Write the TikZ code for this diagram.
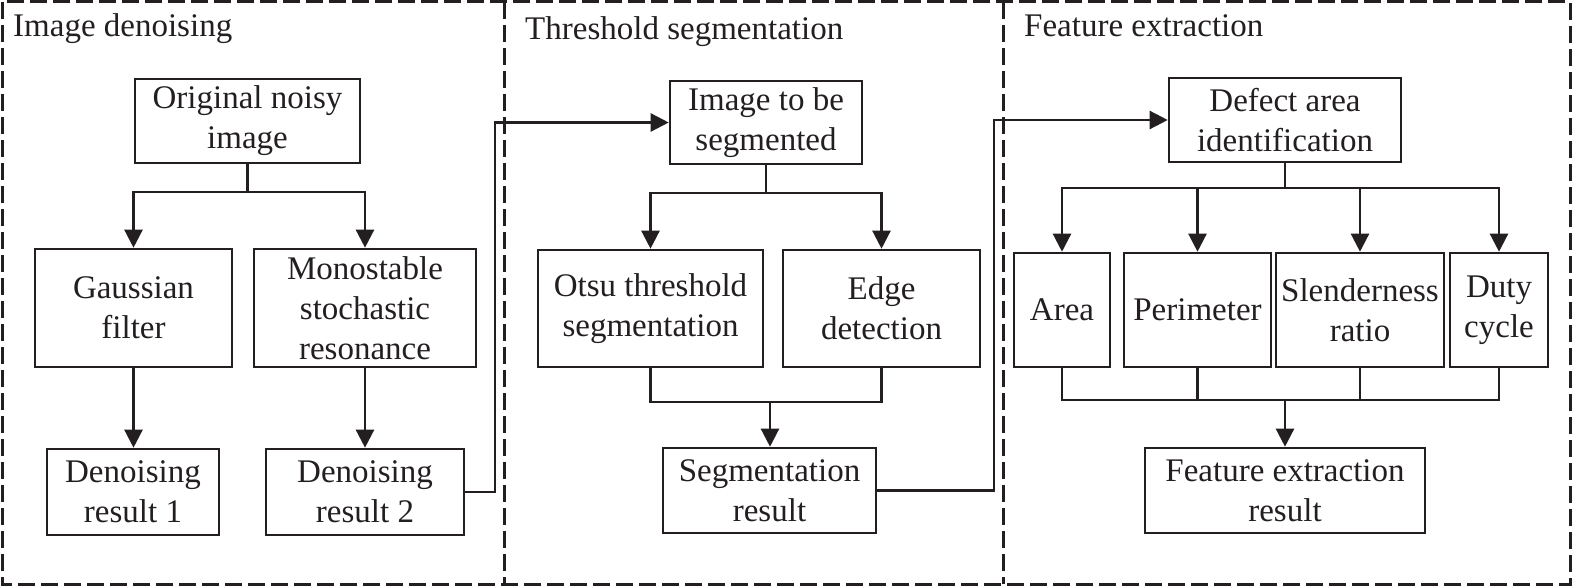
\documentclass[tikz,border=0pt]{standalone}
\usepackage{fontspec}
\setmainfont{Liberation Serif}
\usetikzlibrary{arrows.meta}
\definecolor{ink}{HTML}{231F20}
\begin{document}
\begin{tikzpicture}[x=1pt,y=-1pt,
  box/.style={draw=ink, line width=2.6pt, inner sep=0pt, align=center, text=ink, font=\fontsize{33}{40}\selectfont},
  conn/.style={draw=ink, line width=2.4pt},
  arr/.style={conn, -{Triangle[length=18pt,width=18pt]}},
  panel/.style={draw=ink, line width=3pt, dash pattern=on 17pt off 6pt},
  title/.style={anchor=base west, inner sep=0pt, text=ink, font=\fontsize{33}{40}\selectfont}]
\useasboundingbox (0,0) rectangle (1572,586);
% panels
\draw[panel] (2,2) rectangle (1570,584);
\draw[panel] (504,2) -- (504,584);
\draw[panel] (1003,2) -- (1003,584);
\node[title] (t1) at (13,37) {Image denoising};
\node[title] (t2) at (525,40) {Threshold segmentation};
\node[title] (t3) at (1024,37) {Feature extraction};
% panel 1
\node[box, minimum width=225, minimum height=84] (orig) at (247.5,121) {Original noisy\\image};
\node[box, minimum width=197, minimum height=118] (gauss) at (133.5,308) {Gaussian\\filter};
\node[box, minimum width=222, minimum height=118] (mono) at (365,308) {Monostable\\stochastic\\resonance};
\node[box, minimum width=172, minimum height=86] (dr1) at (133,492) {Denoising\\result 1};
\node[box, minimum width=198, minimum height=86] (dr2) at (365,492) {Denoising\\result 2};
% panel 2
\node[box, minimum width=192, minimum height=83] (itbs) at (766,122.5) {Image to be\\segmented};
\node[box, minimum width=225, minimum height=117] (otsu) at (650.5,308.5) {Otsu threshold\\segmentation};
\node[box, minimum width=197, minimum height=117] (edge) at (881.5,308.5) {Edge\\detection};
\node[box, minimum width=213, minimum height=85] (seg) at (769.5,490.5) {Segmentation\\result};
% panel 3
\node[box, minimum width=232, minimum height=84] (def) at (1285,120) {Defect area\\identification};
\node[box, minimum width=96, minimum height=114] (area) at (1062,310) {Area};
\node[box, minimum width=147, minimum height=114] (perim) at (1197.5,310) {Perimeter};
\node[box, minimum width=168, minimum height=114] (slen) at (1360,310) {Slenderness\\ratio};
\node[box, minimum width=98, minimum height=114] (duty) at (1499,310) {Duty\\cycle};
\node[box, minimum width=280, minimum height=85] (fer) at (1285,490.5) {Feature extraction\\result};
% connectors panel 1
\coordinate (j1) at (247.5,192);
\draw[conn] (orig.south) -- (j1);
\draw[arr] (j1) -| (gauss.north);
\draw[arr] (j1) -| (mono.north);
\draw[arr] (gauss.south) -- (gauss.south |- dr1.north);
\draw[arr] (mono.south) -- (dr2.north);
\coordinate (c1) at (495,0);
\draw[arr] (dr2.east) -| (c1 |- itbs.west) -- (itbs.west);
% connectors panel 2
\coordinate (j2) at (766,193);
\draw[conn] (itbs.south) -- (j2);
\draw[arr] (j2) -| (otsu.north);
\draw[arr] (j2) -| (edge.north);
\coordinate (m2) at (770,402);
\draw[conn] (otsu.south) |- (edge.south |- m2) -- (edge.south);
\draw[arr] (m2) -- (m2 |- seg.north);
\coordinate (c2) at (994,0);
\draw[arr] (seg.east) -| (c2 |- def.west) -- (def.west);
% connectors panel 3
\coordinate (j3) at (1285,188);
\draw[conn] (def.south) -- (j3);
\draw[arr] (j3) -| (area.north);
\draw[arr] (j3) -| (perim.north);
\draw[arr] (j3) -| (slen.north);
\draw[arr] (j3) -| (duty.north);
\coordinate (m3) at (1285,400);
\draw[conn] (area.south) |- (duty.south |- m3) -- (duty.south);
\draw[conn] (perim.south) -- (perim.south |- m3);
\draw[conn] (slen.south) -- (slen.south |- m3);
\draw[arr] (m3) -- (fer.north);
\end{tikzpicture}
\end{document}
